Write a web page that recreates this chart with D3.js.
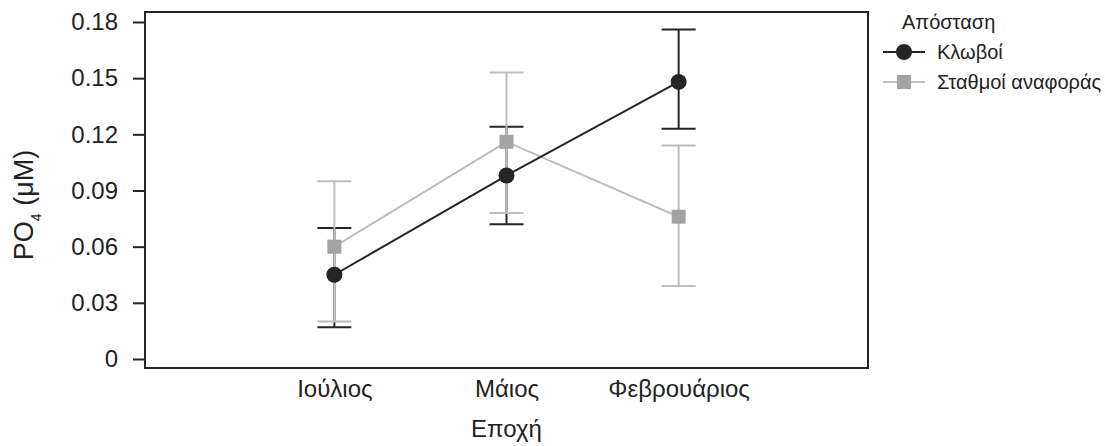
<!DOCTYPE html>
<html>
<head>
<meta charset="utf-8">
<script src="https://cdn.jsdelivr.net/npm/d3@7/dist/d3.min.js"></script>
<style>
  html, body { margin: 0; padding: 0; background: #fff; }
  svg { display: block; font-family: "Liberation Sans", Arial, Helvetica, sans-serif; }
</style>
</head>
<body>
<svg id="chart" width="1105" height="446"></svg>
<script>
// Seasons on the x axis
const categories = ["Ιούλιος", "Μάιος", "Φεβρουάριος"];

// PO4 means with error-bar limits, per station type
const cagesMean = [0.045, 0.098, 0.148];
const cagesLow  = [0.017, 0.072, 0.123];
const cagesHigh = [0.070, 0.124, 0.176];

const refMean = [0.060, 0.116, 0.076];
const refLow  = [0.020, 0.078, 0.039];
const refHigh = [0.095, 0.153, 0.114];

const seriesNames = ["Κλωβοί", "Σταθμοί αναφοράς"];
const yTicks = [0, 0.03, 0.06, 0.09, 0.12, 0.15, 0.18];
const yTickLabels = ["0", "0.03", "0.06", "0.09", "0.12", "0.15", "0.18"];

const svg = d3.select("#chart");
const frame = { left: 145, right: 868, top: 12, bottom: 368 };

const x = d3.scalePoint().domain(categories).range([frame.left, frame.right]).padding(1.1);
const y = d3.scaleLinear().domain([0, 0.18]).range([359, 22]);

const dark = "#252525";
const lightLine = "#bdbdbd";
const lightMark = "#a3a3a3";

// Panel frame
svg.append("rect")
  .attr("x", frame.left).attr("y", frame.top)
  .attr("width", frame.right - frame.left).attr("height", frame.bottom - frame.top)
  .attr("fill", "none").attr("stroke", dark).attr("stroke-width", 2);

// Y axis
const yAxis = d3.axisLeft(y)
  .tickValues(yTicks)
  .tickFormat((d, i) => yTickLabels[i])
  .tickSize(12).tickPadding(15);
const gy = svg.append("g").attr("transform", `translate(${frame.left},0)`).call(yAxis);
gy.select(".domain").remove();
gy.selectAll(".tick line").attr("stroke", dark).attr("stroke-width", 2);
gy.selectAll(".tick text").attr("fill", "#222").style("font-size", "24px")
  .style("font-family", "'Liberation Sans', Arial, sans-serif");

// X axis (labels only)
const xAxis = d3.axisBottom(x).tickSize(0).tickPadding(12);
const gx = svg.append("g").attr("transform", `translate(0,${frame.bottom})`).call(xAxis);
gx.select(".domain").remove();
gx.selectAll(".tick text").attr("fill", "#222").style("font-size", "24px")
  .style("font-family", "'Liberation Sans', Arial, sans-serif");

// Axis titles
svg.append("text")
  .attr("x", (frame.left + frame.right) / 2).attr("y", 437)
  .attr("text-anchor", "middle").attr("fill", "#222").style("font-size", "24px")
  .text("Εποχή");

const yTitle = svg.append("text")
  .attr("transform", "translate(33,205) rotate(-90)")
  .attr("text-anchor", "middle").attr("fill", "#222").style("font-size", "27px");
yTitle.append("tspan").text("PO");
yTitle.append("tspan").attr("baseline-shift", "sub").style("font-size", "14px").text("4");
yTitle.append("tspan").text(" (μM)");

// Error bars
function errorBars(low, high, color) {
  const g = svg.append("g").attr("stroke", color).attr("stroke-width", 2).attr("fill", "none");
  categories.forEach((c, i) => {
    const cx = x(c);
    g.append("line").attr("x1", cx).attr("x2", cx).attr("y1", y(low[i])).attr("y2", y(high[i]));
    g.append("line").attr("x1", cx - 17).attr("x2", cx + 17).attr("y1", y(low[i])).attr("y2", y(low[i]));
    g.append("line").attr("x1", cx - 17).attr("x2", cx + 17).attr("y1", y(high[i])).attr("y2", y(high[i]));
  });
}

const line = d3.line().x((d, i) => x(categories[i])).y(d => y(d));

errorBars(cagesLow, cagesHigh, dark);
errorBars(refLow, refHigh, lightLine);

// Reference stations
svg.append("path").datum(refMean).attr("d", line)
  .attr("fill", "none").attr("stroke", lightLine).attr("stroke-width", 2);
svg.append("g").selectAll("rect").data(refMean).join("rect")
  .attr("x", (d, i) => x(categories[i]) - 7).attr("y", d => y(d) - 7)
  .attr("width", 14).attr("height", 14).attr("fill", lightMark);

// Cages
svg.append("path").datum(cagesMean).attr("d", line)
  .attr("fill", "none").attr("stroke", dark).attr("stroke-width", 2);
svg.append("g").selectAll("circle").data(cagesMean).join("circle")
  .attr("cx", (d, i) => x(categories[i])).attr("cy", d => y(d))
  .attr("r", 8).attr("fill", dark);

// Legend
const legend = svg.append("g");
legend.append("text").attr("x", 902).attr("y", 29)
  .attr("fill", "#222").style("font-size", "20px").text("Απόσταση");

const items = [
  { name: seriesNames[0], color: dark, shape: "circle", cy: 52 },
  { name: seriesNames[1], color: lightLine, mark: lightMark, shape: "square", cy: 82 }
];
items.forEach(it => {
  legend.append("line").attr("x1", 883).attr("x2", 925).attr("y1", it.cy).attr("y2", it.cy)
    .attr("stroke", it.color).attr("stroke-width", 2);
  if (it.shape === "circle") {
    legend.append("circle").attr("cx", 904).attr("cy", it.cy).attr("r", 8).attr("fill", it.color);
  } else {
    legend.append("rect").attr("x", 897).attr("y", it.cy - 7).attr("width", 14).attr("height", 14)
      .attr("fill", it.mark);
  }
  legend.append("text").attr("x", 937).attr("y", it.cy).attr("dy", "0.35em")
    .attr("fill", "#222").style("font-size", "20px").text(it.name);
});
</script>
</body>
</html>
